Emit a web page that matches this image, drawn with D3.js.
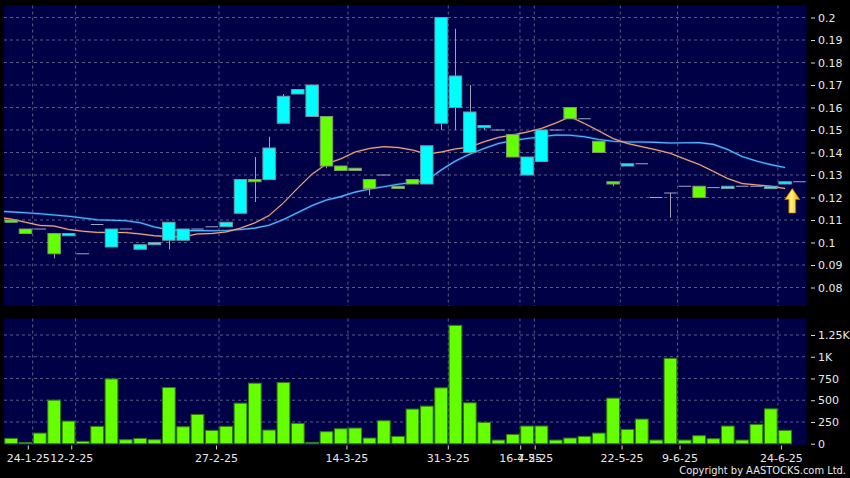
<!DOCTYPE html>
<html><head><meta charset="utf-8">
<script src="https://cdn.jsdelivr.net/npm/d3@7"></script>
<style>html,body{margin:0;padding:0;background:#000;} svg{display:block}</style>
</head><body><svg id="c" width="850" height="478"></svg>
<script>
// ---------- DATA ----------
const opens  = [0.110,0.106,0.106,0.104,0.103,0.095,0.108,0.098,0.106,0.097,
                0.099,0.101,0.101,0.106,0.107,0.107,0.113,0.128,0.128,0.153,
                0.166,0.156,0.156,0.134,0.133,0.128,0.130,0.125,0.128,0.126,
                0.153,0.160,0.140,0.151,0.150,0.148,0.130,0.136,0.150,0.160,
                0.155,0.145,0.127,0.134,0.135,0.120,0.122,0.125,0.125,0.1244,
                0.124,0.125,0.125,0.124,0.126,0.127];
const highs  = [0.110,0.106,0.106,0.104,0.104,0.095,0.108,0.106,0.106,0.099,
                0.100,0.109,0.106,0.106,0.107,0.109,0.128,0.138,0.147,0.166,
                0.168,0.170,0.156,0.134,0.133,0.128,0.130,0.125,0.128,0.143,
                0.200,0.195,0.170,0.152,0.150,0.148,0.138,0.150,0.150,0.160,
                0.155,0.145,0.127,0.135,0.135,0.120,0.122,0.125,0.125,0.1244,
                0.125,0.125,0.125,0.125,0.127,0.127];
const lows   = [0.109,0.104,0.106,0.093,0.103,0.095,0.108,0.098,0.106,0.097,
                0.099,0.097,0.101,0.106,0.107,0.107,0.113,0.118,0.128,0.153,
                0.166,0.156,0.133,0.132,0.132,0.121,0.130,0.124,0.126,0.126,
                0.150,0.150,0.140,0.150,0.150,0.138,0.130,0.136,0.150,0.155,
                0.155,0.140,0.125,0.134,0.135,0.120,0.111,0.125,0.120,0.1244,
                0.124,0.125,0.125,0.124,0.126,0.127];
const closes = [0.109,0.104,0.106,0.095,0.104,0.095,0.108,0.106,0.106,0.099,
                0.100,0.109,0.106,0.106,0.107,0.109,0.128,0.127,0.142,0.165,
                0.168,0.170,0.134,0.132,0.132,0.124,0.130,0.124,0.126,0.143,
                0.200,0.174,0.158,0.152,0.150,0.138,0.138,0.150,0.150,0.155,
                0.155,0.140,0.126,0.135,0.135,0.120,0.122,0.125,0.120,0.1244,
                0.125,0.125,0.125,0.125,0.127,0.127];
const volumes = [61,15,122,501,260,27,199,745,46,61,
                 46,646,195,336,153,199,466,696,157,703,
                 233,15,138,172,180,65,264,84,398,432,
                 642,1361,470,245,42,107,203,203,42,65,
                 84,122,524,164,283,42,982,42,92,57,
                 203,42,222,401,153,0];
// moving averages; first value belongs to the session before the first bar
const maShort = [0.1113,0.1104,0.109,0.1076,0.1073,0.1058,0.105,0.1045,0.1045,0.1044,0.1038,
                 0.103,0.1026,0.1026,0.1038,0.104,0.1047,0.1064,0.1087,0.112,0.1176,
                 0.1242,0.1304,0.1349,0.1372,0.1402,0.1418,0.1426,0.1422,0.1411,0.1393,
                 0.1402,0.1416,0.1424,0.1448,0.1467,0.1478,0.1491,0.1507,0.1531,0.1559,
                 0.1529,0.1496,0.1462,0.144,0.1426,0.1412,0.1396,0.1371,0.1347,0.1316,
                 0.1284,0.1262,0.1256,0.125,0.124];
const maLong  = [0.1139,0.1136,0.1132,0.1128,0.1122,0.1117,0.1109,0.1101,0.1099,0.1097,0.1088,
                 0.1069,0.1056,0.1053,0.1053,0.1052,0.1053,0.1058,0.1064,0.1077,0.1102,
                 0.1133,0.1164,0.1189,0.1204,0.1224,0.1238,0.1248,0.1259,0.1267,0.1276,
                 0.1322,0.1362,0.1393,0.1418,0.144,0.1453,0.1462,0.147,0.1478,0.1477,
                 0.147,0.1458,0.145,0.1447,0.1447,0.1445,0.1442,0.1443,0.1444,0.1436,
                 0.1413,0.1382,0.1362,0.1346,0.1333];
const dateTickPos    = [1.5,4.5,14.5,23.5,30.5,35.5,36.5,42.5,46.5,53.5];
const dateTickLabels = ["24-1-25","12-2-25","27-2-25","14-3-25","31-3-25","16-4-25","7-5-25","22-5-25","9-6-25","24-6-25"];
const priceTicks = [0.08,0.09,0.1,0.11,0.12,0.13,0.14,0.15,0.16,0.17,0.18,0.19,0.2];
const volTicks   = [0,250,500,750,1000,1250];
const volTickLabels = ["0","250","500","750","1K","1.25K"];

// ---------- LAYOUT ----------
const svg = d3.select("#c");
const L = 4, R = 806.6;
const P = {top:5.5, bottom:306};
const V = {top:318.5, bottom:445};
const n = closes.length;
const x = d3.scaleLinear().domain([-0.5, n-0.5]).range([L, R]);
const step = x(1)-x(0);
const bw = step*0.87;
const y = d3.scaleLinear().domain([0.2,0.08]).range([17.5,287.5]);
const yv = d3.scaleLinear().domain([0,1250]).range([443.7,335]);

const NAVY = "#000046", GRID = "#5a5a88";
const FONT = "DejaVu Sans";

svg.append("rect").attr("width",850).attr("height",478).attr("fill","#000");
svg.append("rect").attr("x",L).attr("y",P.top).attr("width",R-L).attr("height",P.bottom-P.top).attr("fill",NAVY);
svg.append("rect").attr("x",L).attr("y",V.top).attr("width",R-L).attr("height",V.bottom-V.top).attr("fill",NAVY);

const defs = svg.append("defs");
defs.append("clipPath").attr("id","pclip").append("rect")
  .attr("x",L).attr("y",P.top).attr("width",R-L).attr("height",P.bottom-P.top);
const grad = defs.append("linearGradient").attr("id","gold").attr("x1",0).attr("x2",1).attr("y1",0).attr("y2",0);
grad.append("stop").attr("offset","0%").attr("stop-color","#ffb400");
grad.append("stop").attr("offset","45%").attr("stop-color","#fff27a");
grad.append("stop").attr("offset","100%").attr("stop-color","#f0a000");

// grids
const gP = svg.append("g");
gP.selectAll(".hg").data(priceTicks).join("line")
  .attr("x1",L).attr("x2",R).attr("y1",d=>y(d)).attr("y2",d=>y(d))
  .attr("stroke",GRID).attr("stroke-dasharray","3,3").attr("stroke-width",1);
gP.selectAll(".vg").data(dateTickPos).join("line")
  .attr("x1",d=>x(d)).attr("x2",d=>x(d)).attr("y1",P.top).attr("y2",P.bottom)
  .attr("stroke",GRID).attr("stroke-dasharray","3,3");
const gV = svg.append("g");
gV.selectAll(".hg").data(volTicks.slice(1)).join("line")
  .attr("x1",L).attr("x2",R).attr("y1",d=>yv(d)).attr("y2",d=>yv(d))
  .attr("stroke",GRID).attr("stroke-dasharray","3,3");
gV.selectAll(".vg").data(dateTickPos).join("line")
  .attr("x1",d=>x(d)).attr("x2",d=>x(d)).attr("y1",V.top).attr("y2",V.bottom)
  .attr("stroke",GRID).attr("stroke-dasharray","3,3");

// moving averages
const maIdx = d3.range(-1, n-1);
const lineGen = arr => d3.line().x((d,i)=>x(maIdx[i])).y(d=>y(d))(arr);
const gMA = svg.append("g").attr("clip-path","url(#pclip)");
gMA.append("path").attr("d",lineGen(maLong)).attr("fill","none").attr("stroke","#2a7fd8").attr("stroke-width",2.4).attr("stroke-opacity",0.45);
gMA.append("path").attr("d",lineGen(maLong)).attr("fill","none").attr("stroke","#5ab8ff").attr("stroke-width",1.1);
gMA.append("path").attr("d",lineGen(maShort)).attr("fill","none").attr("stroke","#a0604a").attr("stroke-width",2).attr("stroke-opacity",0.5);
gMA.append("path").attr("d",lineGen(maShort)).attr("fill","none").attr("stroke","#f4b08a").attr("stroke-width",1);

// candles
const idx = d3.range(n);
const gC = svg.append("g");
gC.selectAll(".wick").data(idx.filter(i=>highs[i]>Math.max(opens[i],closes[i])||lows[i]<Math.min(opens[i],closes[i])))
  .join("line")
  .attr("x1",i=>Math.round(x(i))+0.5).attr("x2",i=>Math.round(x(i))+0.5)
  .attr("y1",i=>y(highs[i])).attr("y2",i=>y(lows[i]))
  .attr("stroke","#a0a0b0").attr("stroke-width",1);
gC.selectAll(".body").data(idx.filter(i=>opens[i]!==closes[i])).join("rect")
  .attr("x",i=>x(i)-bw/2).attr("width",bw)
  .attr("y",i=>y(Math.max(opens[i],closes[i])))
  .attr("height",i=>Math.max(1,Math.abs(y(opens[i])-y(closes[i]))))
  .attr("fill",i=>closes[i]>opens[i]?"#00ffff":"#66ff00")
  .attr("stroke",i=>closes[i]>opens[i]?"#6a9aa8":"#7a9a70").attr("stroke-width",1);
gC.selectAll(".doji").data(idx.filter(i=>opens[i]===closes[i])).join("line")
  .attr("x1",i=>x(i)-bw/2).attr("x2",i=>x(i)+bw/2)
  .attr("y1",i=>y(closes[i])).attr("y2",i=>y(closes[i]))
  .attr("stroke","#9aa8c8").attr("stroke-width",1);

// arrow at last close
const ax = x(n-1.5), ay = y(maShort[maShort.length-1]);
svg.append("path")
  .attr("d",`M${ax},${ay} L${ax+7.5},${ay+11} L${ax+3.4},${ay+11} L${ax+3.4},${ay+24.5} L${ax-3.4},${ay+24.5} L${ax-3.4},${ay+11} L${ax-7.5},${ay+11} Z`)
  .attr("fill","url(#gold)").attr("stroke","#b07000").attr("stroke-width",0.8);

// volume
svg.append("g").selectAll("rect").data(idx.filter(i=>volumes[i]>0)).join("rect")
  .attr("x",i=>x(i)-step*0.445).attr("width",step*0.89)
  .attr("y",i=>yv(volumes[i])).attr("height",i=>yv(0)-yv(volumes[i]))
  .attr("fill","#66ff00").attr("stroke","#2f7a10").attr("stroke-width",1);

// right axes
const styleAxis = g => {
  g.select(".domain").remove();
  g.selectAll("line").attr("stroke","#d8d8d8");
  g.selectAll("text").attr("fill","#e8e8e8").attr("font-family",FONT).attr("font-size",11);
};
svg.append("g").attr("transform","translate(811,0)")
  .call(d3.axisRight(y).tickValues(priceTicks).tickSize(4).tickPadding(3).tickFormat(d=>String(+d.toFixed(2))))
  .call(styleAxis);
svg.append("g").attr("transform","translate(811,0)")
  .call(d3.axisRight(yv).tickValues(volTicks).tickSize(4).tickPadding(3).tickFormat((d,i)=>volTickLabels[i]))
  .call(styleAxis);

// bottom date axis (ticks drift slightly relative to grid, as in the source)
const tx = d => x(d) + (x(d)-448)*0.0105;
const gD = svg.append("g");
gD.selectAll("line").data(dateTickPos).join("line")
  .attr("x1",tx).attr("x2",tx).attr("y1",445.5).attr("y2",449.5).attr("stroke","#d8d8d8");
gD.selectAll("text").data(dateTickPos).join("text")
  .attr("x",tx).attr("y",462).attr("text-anchor","middle")
  .attr("fill","#e8e8e8").attr("font-family",FONT).attr("font-size",11)
  .text((d,i)=>dateTickLabels[i]);

svg.append("text").attr("x",846).attr("y",474).attr("text-anchor","end")
  .attr("fill","#e8e8e8").attr("font-family","DejaVu Sans Condensed, DejaVu Sans").attr("font-stretch","condensed").attr("font-size",11)
  .text("Copyright by AASTOCKS.com Ltd.");
</script></body></html>
